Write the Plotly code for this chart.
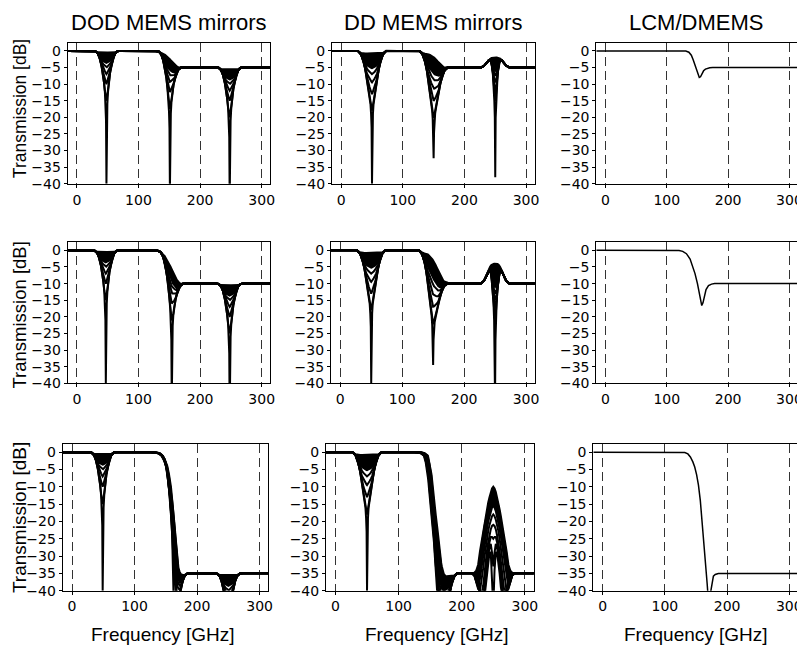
import numpy as np
import plotly.graph_objects as go

# ---------------- data ----------------
COL_TITLES = ["DOD MEMS mirrors", "DD MEMS mirrors", "LCM/DMEMS"]
X_TICKS = [0, 100, 200, 300]
Y_TICKS = [0, -5, -10, -15, -20, -25, -30, -35, -40]

# notch fans: offsets from the notch centre (GHz) and relative dB for each curve
OFF = [0, 0.7, 1.5, 2.5, 4, 6, 8, 11, 14, 18, 23]
DOD_FAN = [
    [-40, -21, -16, -12.5, -9.5, -6.5, -4.5, -2.2, -0.8, -0.1, 0],
    [-15, -14.2, -13.3, -12, -9.5, -6.5, -4.5, -2.2, -0.8, -0.1, 0],
    [-10, -9.6, -9.1, -8.4, -7.6, -6.2, -4.5, -2.2, -0.8, -0.1, 0],
    [-7, -6.8, -6.5, -6.1, -5.6, -4.9, -4.1, -2.2, -0.8, -0.1, 0],
    [-5, -4.9, -4.75, -4.5, -4.2, -3.8, -3.4, -2.1, -0.8, -0.1, 0],
    [-3.6, -3.55, -3.5, -3.4, -3.25, -3.0, -2.75, -1.9, -0.8, -0.1, 0],
    [-2.6, -2.6, -2.6, -2.6, -2.6, -2.6, -2.5, -1.8, -0.8, -0.1, 0],
    [-1.8, -1.8, -1.8, -1.8, -1.8, -1.8, -1.8, -1.6, -0.8, -0.1, 0],
    [-1.1, -1.1, -1.1, -1.1, -1.1, -1.1, -1.1, -1.1, -0.7, -0.1, 0],
    [-0.5, -0.5, -0.5, -0.5, -0.5, -0.5, -0.5, -0.5, -0.45, -0.1, 0],
]
DD_FAN = [
    [-40, -23, -19, -16, -14, -11, -9, -5.5, -3, -1, 0],
    [-18, -17.3, -16.5, -15.2, -13.6, -11, -9, -5.5, -3, -1, 0],
    [-13, -12.7, -12.3, -11.7, -10.9, -9.6, -8.3, -5.5, -3, -1, 0],
    [-9.5, -9.35, -9.15, -8.85, -8.4, -7.7, -6.9, -5.1, -3, -1, 0],
    [-7, -6.9, -6.8, -6.6, -6.35, -5.9, -5.4, -4.3, -2.8, -1, 0],
    [-5.2, -5.15, -5.1, -5.0, -4.85, -4.6, -4.3, -3.6, -2.5, -0.95, 0],
    [-3.8, -3.8, -3.8, -3.8, -3.8, -3.7, -3.6, -3.2, -2.4, -0.9, 0],
    [-2.7, -2.7, -2.7, -2.7, -2.7, -2.7, -2.7, -2.6, -2.2, -0.9, 0],
    [-1.7, -1.7, -1.7, -1.7, -1.7, -1.7, -1.7, -1.7, -1.6, -0.8, 0],
    [-0.8, -0.8, -0.8, -0.8, -0.8, -0.8, -0.8, -0.8, -0.8, -0.6, 0],
]
DD_NOTCH150_DEEP = [-30, -22, -18.5, -16, -14, -11, -9, -5.5, -3, -1, 0]

# DD bump + notch family at 250 GHz (relative dB), rows 1 and 2
DD_BUMP_R1 = [
    [-33, -15, -10, -5.5, -1.5, 1.2, 2.3, 2.1, 1.4, 0.5, 0],
    [-10, -9.3, -8, -5.3, -1.5, 1.2, 2.3, 2.1, 1.4, 0.5, 0],
    [-7, -6.6, -5.9, -4.4, -1.3, 1.25, 2.3, 2.1, 1.4, 0.5, 0],
    [-4.5, -4.2, -3.7, -2.8, -0.8, 1.3, 2.3, 2.1, 1.4, 0.5, 0],
    [-2.5, -2.3, -2.0, -1.4, -0.2, 1.4, 2.3, 2.1, 1.4, 0.5, 0],
    [-1, -0.9, -0.7, -0.3, 0.5, 1.5, 2.3, 2.1, 1.4, 0.5, 0],
    [0.3, 0.3, 0.35, 0.5, 0.9, 1.6, 2.35, 2.1, 1.4, 0.5, 0],
    [1.3, 1.3, 1.3, 1.35, 1.5, 1.8, 2.4, 2.1, 1.4, 0.5, 0],
    [2.2, 2.2, 2.2, 2.2, 2.2, 2.3, 2.5, 2.1, 1.4, 0.5, 0],
    [3, 3, 3, 3, 2.95, 2.85, 2.65, 2.1, 1.4, 0.5, 0],
]
DD_BUMP_R2 = [
    [-35, -17, -11, -6, -1.5, 2.5, 4.3, 3.6, 2.4, 0.8, 0],
    [-11, -10.3, -8.8, -5.8, -1.5, 2.5, 4.3, 3.6, 2.4, 0.8, 0],
    [-7.5, -7, -6.2, -4.6, -1.2, 2.55, 4.3, 3.6, 2.4, 0.8, 0],
    [-5, -4.7, -4.1, -3.1, -0.6, 2.6, 4.3, 3.6, 2.4, 0.8, 0],
    [-3, -2.8, -2.4, -1.7, 0.1, 2.7, 4.3, 3.6, 2.4, 0.8, 0],
    [-1, -0.85, -0.5, 0.1, 1.0, 2.9, 4.3, 3.6, 2.4, 0.8, 0],
    [1, 1.05, 1.2, 1.5, 2.0, 3.2, 4.35, 3.6, 2.4, 0.8, 0],
    [2.8, 2.8, 2.85, 2.95, 3.2, 3.7, 4.4, 3.7, 2.4, 0.8, 0],
    [4.5, 4.5, 4.5, 4.5, 4.5, 4.5, 4.6, 3.8, 2.5, 0.8, 0],
    [6, 6, 6, 6, 5.9, 5.6, 5.1, 3.9, 2.6, 0.8, 0],
]
# DD row 3 lobe at 250 GHz (absolute dB)
OFF_B3 = [0, 2, 4, 6, 8, 10, 12, 14, 16, 18, 21, 24, 27, 30, 34]
DD_LOBE_R3 = [
    [-45, -34, -29, -29, -31.5, -35, -39, -42, -43, -41.5, -39.5, -37, -36, -35.2, -35],
    [-33, -29, -26.5, -27.5, -30, -33, -36.5, -40.5, -43, -42, -40, -37.5, -36.2, -35.3, -35],
    [-25, -24.5, -24.5, -26, -28.3, -31, -34.3, -38, -42, -42, -40.5, -38, -36.5, -35.4, -35],
    [-21, -21.3, -22.3, -24, -26, -28.5, -31.5, -34.7, -38.5, -41, -41, -39, -37, -35.5, -35],
    [-18, -18.5, -19.5, -21, -22.7, -25, -27.5, -30.3, -33.5, -36.5, -40, -39.5, -37.5, -35.6, -35],
    [-15.5, -16, -17, -18.5, -20.1, -22.2, -24.4, -26.8, -29.6, -32.2, -36.5, -39, -37.5, -35.6, -35],
    [-13.5, -14, -15, -16.5, -18, -20, -22, -24.2, -26.8, -29, -33, -37, -37, -35.5, -35],
    [-12.2, -12.7, -13.7, -15.2, -16.7, -18.7, -20.7, -22.8, -25.3, -27.4, -31, -35.5, -36.5, -35.4, -35],
    [-11, -11.5, -12.5, -14, -15.5, -17.5, -19.5, -21.5, -24, -26, -29.7, -34, -35.5, -35.2, -35],
    [-10, -10.5, -11.5, -13, -14.5, -16.5, -18.5, -20.5, -23, -25, -28.5, -32.5, -34.2, -34.8, -35],
]

# roll-off baselines (frequency GHz, dB)
BASE_R1_F = [-15, 125, 130, 135, 140, 145, 150, 155, 160, 165, 170, 175, 320]
BASE_R1_DB = [0, 0, -0.05, -0.2, -0.6, -1.3, -2.3, -3.3, -4.2, -4.75, -4.97, -5, -5]
BASE_R2_F = [-15, 125, 130, 135, 140, 145, 150, 155, 160, 165, 170, 175, 320]
BASE_R2_DB = [0, 0, -0.1, -0.4, -1.2, -2.6, -4.5, -6.6, -8.4, -9.5, -9.95, -10, -10]
BASE_R3_DOD_F = [-15, 125, 132, 138, 143, 147, 150, 153, 156, 159, 162, 165, 168, 171, 175, 320]
BASE_R3_DOD_DB = [0, 0, -0.05, -0.3, -1.0, -2.2, -3.5, -6, -9.5, -14.5, -21, -28, -33, -34.7, -35, -35]
BASE_R3_DD_F = [-15, 124, 130, 135, 140, 143, 146, 148, 151, 155, 158, 161, 164, 168, 320]
BASE_R3_DD_DB = [0, 0, -0.05, -0.3, -1.0, -3.0, -6.0, -10, -15, -21, -27, -31, -34, -35, -35]
DOD_SHIFT = [0, 0.25, 0.5, 0.75, 1.0, 1.25, 1.5, 1.75, 2.0, 2.25]
DD_SHIFT = [0, 0.7, 1.4, 2.1, 2.8, 3.5, 4.2, 4.9, 5.6, 6.3]

# notch centres per row (GHz)
DOD_CENTRES = [[48, 151, 248], [47, 154, 248], [49, 166, 250]]
DD_CENTRES = [[50, 150, 250], [50, 150, 250], [50, 170, 250]]
STOP_LEVEL = [-5, -10, -35]

# curves whose band (between them) prints as solid black in the scan
FILL_UPPER, FILL_LOWER = 9, 5

# LCM/DMEMS single curves
LCM_F1 = [-15, 125, 131, 136, 140, 143, 146, 149, 151, 153, 155, 157, 160, 163, 166, 170, 175, 320]
LCM_Y1 = [0, 0, -0.05, -0.4, -1.3, -2.7, -4.4, -6.3, -7.4, -8.0, -7.8, -7.0, -6.0, -5.5, -5.25, -5.07, -5.0, -5.0]
LCM_F2 = [-15, 115, 120, 126, 132, 138, 142, 146, 150, 153, 155, 157, 159, 161, 164, 168, 173, 178, 320]
LCM_Y2 = [0, 0, -0.05, -0.3, -1.0, -2.6, -4.5, -7.0, -10, -13, -15.3, -16.6, -15.8, -13.8, -11.8, -10.6, -10.15, -10, -10]
LCM_F3 = [-15, 125, 132, 137, 141, 145, 148, 151, 154, 157, 160, 163, 166, 168, 170, 172, 174, 176, 178, 181, 186, 320]
LCM_Y3 = [0, 0, -0.1, -0.5, -1.4, -2.8, -4.3, -6.5, -9.5, -14, -20, -26, -33, -38, -43, -44, -40, -37, -35.8, -35.3, -35.05, -35]

# ---------------- helpers ----------------
def sym(off, vals):
    off = np.asarray(off, float)
    vals = np.asarray(vals, float)
    return np.concatenate([-off[:0:-1], off]), np.concatenate([vals[:0:-1], vals])


def compose(base_f, base_db, shift, features):
    """Sum of read polylines: roll-off baseline plus notch/bump tables."""
    bf = np.asarray(base_f, float) + shift
    bf[0] = base_f[0]
    bf[-1] = base_f[-1]
    xs = [bf]
    feats = []
    for c, off, vals in features:
        o, v = sym(off, vals)
        feats.append((c + o, v))
        xs.append(c + o)
    x = np.unique(np.concatenate(xs))
    x = x[(x >= base_f[0]) & (x <= base_f[-1])]
    y = np.interp(x, bf, base_db)
    for fx, fv in feats:
        y = y + np.interp(x, fx, fv, left=0, right=0)
    return x, y


ROW_BASES = [
    (BASE_R1_F, BASE_R1_DB, BASE_R1_F, BASE_R1_DB),
    (BASE_R2_F, BASE_R2_DB, BASE_R2_F, BASE_R2_DB),
    (BASE_R3_DOD_F, BASE_R3_DOD_DB, BASE_R3_DD_F, BASE_R3_DD_DB),
]
DD_BUMPS = [DD_BUMP_R1, DD_BUMP_R2, None]
LCM = [(LCM_F1, LCM_Y1), (LCM_F2, LCM_Y2), (LCM_F3, LCM_Y3)]

# pixel layout (reference pixels); the page body has an 8 px margin
OX, OY = 8, 8
XDOM = [[(68, 272), (334, 538), (600, 803)],
        [(68, 272), (333, 538), (600, 803)],
        [(63, 270), (328, 537), (597, 803)]]
YDOM = [(43, 186), (245, 388), (449, 598)]
FW, FH = 797, 645


def px(x):
    return (x - OX) / FW


def py(y):
    return 1 - (y - OY) / FH


fig = go.Figure()
FAN_LINE = dict(color="black", width=2.0)
LCM_LINE = dict(color="black", width=1.5)
FONT = "Arial, Liberation Sans, sans-serif"
TICK_FONT = "DejaVu Sans, sans-serif"

for r in range(3):
    for c in range(3):
        idx = r * 3 + c + 1
        xa = "x" if idx == 1 else f"x{idx}"
        ya = "y" if idx == 1 else f"y{idx}"
        curves = []
        if c == 0:
            bf, bd = ROW_BASES[r][0], ROW_BASES[r][1]
            for k in range(len(DOD_FAN)):
                feats = [(cc, OFF, DOD_FAN[k]) for cc in DOD_CENTRES[r]]
                curves.append(compose(bf, bd, DOD_SHIFT[k], feats))
        elif c == 1:
            bf, bd = ROW_BASES[r][2], ROW_BASES[r][3]
            for k in range(len(DD_FAN)):
                c50, c150, c250 = DD_CENTRES[r]
                fan150 = DD_NOTCH150_DEEP if k == 0 else DD_FAN[k]
                feats = [(c50, OFF, DD_FAN[k]), (c150, OFF, fan150)]
                if DD_BUMPS[r] is not None:
                    feats.append((c250, OFF, DD_BUMPS[r][k]))
                else:
                    rel = [v - STOP_LEVEL[r] for v in DD_LOBE_R3[k]]
                    feats.append((c250, OFF_B3, rel))
                curves.append(compose(bf, bd, DD_SHIFT[k], feats))
        else:
            curves.append((np.asarray(LCM[r][0]), np.asarray(LCM[r][1])))

        common = dict(mode="lines", xaxis=xa, yaxis=ya, showlegend=False,
                      hoverinfo="skip")
        if c < 2:
            # solid black band between the upper curves of the family
            xu, yu = curves[FILL_UPPER]
            xl, yl = curves[FILL_LOWER]
            fig.add_trace(go.Scatter(x=xu, y=yu, line=FAN_LINE, **common))
            fig.add_trace(go.Scatter(x=xl, y=yl, line=FAN_LINE, fill="tonexty",
                                     fillcolor="black", **common))
            for k, (x, y) in enumerate(curves):
                if k in (FILL_UPPER, FILL_LOWER):
                    continue
                fig.add_trace(go.Scatter(x=x, y=y, line=FAN_LINE, **common))
        else:
            for x, y in curves:
                fig.add_trace(go.Scatter(x=x, y=y, line=LCM_LINE, **common))

        x0, x1 = XDOM[r][c]
        y0, y1 = YDOM[r]
        axkw = dict(showline=True, linecolor="black", linewidth=1, mirror=True,
                    ticks="outside", ticklen=3, tickwidth=1, tickcolor="black",
                    zeroline=False,
                    tickfont=dict(family=TICK_FONT, size=14, color="black"))
        fig.layout["xaxis" if idx == 1 else f"xaxis{idx}"] = dict(
            domain=[px(x0), px(x1)], anchor=ya, range=[-15, 314],
            tickvals=X_TICKS, showgrid=True, gridcolor="#333333", gridwidth=1,
            griddash="9px,5px", **axkw)
        fig.layout["yaxis" if idx == 1 else f"yaxis{idx}"] = dict(
            domain=[py(y1), py(y0)], anchor=xa, range=[-40, 2.5],
            tickvals=Y_TICKS, showgrid=False, **axkw)

ann = []
TITLE_X = [170, 436, 700]
XLAB_X = [164, 440, 700]
YLAB_Y = [110, 319, 524]
YLAB_SIZE = [17.5, 18.5, 19]
for c in range(3):
    ann.append(dict(text=COL_TITLES[c], x=px(TITLE_X[c]), y=py(22.5),
                    xref="paper", yref="paper", showarrow=False,
                    xanchor="center", yanchor="middle",
                    font=dict(family=FONT, size=22, color="black")))
    ann.append(dict(text="Frequency [GHz]", x=px(XLAB_X[c]), y=py(642),
                    xref="paper", yref="paper", showarrow=False,
                    xanchor="center", yanchor="middle",
                    font=dict(family=FONT, size=19, color="black")))
for r in range(3):
    ann.append(dict(text="Transmission [dB]", x=px(19.5), y=py(YLAB_Y[r]),
                    xref="paper", yref="paper", showarrow=False, textangle=-90,
                    xanchor="center", yanchor="middle",
                    font=dict(family=FONT, size=YLAB_SIZE[r], color="black")))

fig.update_layout(width=FW, height=FH, margin=dict(l=0, r=0, t=0, b=0),
                  paper_bgcolor="white", plot_bgcolor="white",
                  annotations=ann, showlegend=False)
fig.write_html("out.html")
